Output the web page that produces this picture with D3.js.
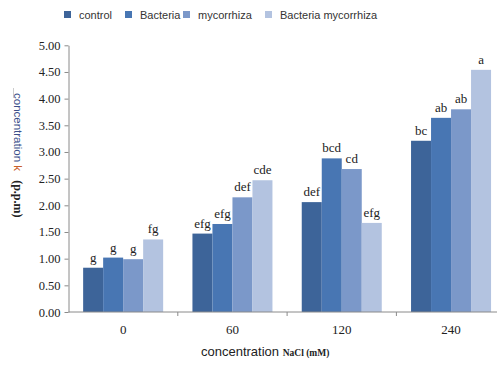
<!DOCTYPE html>
<html><head><meta charset="utf-8">
<script src="https://cdn.jsdelivr.net/npm/d3@7"></script>
<style>body{margin:0;background:#fff}svg{display:block}</style>
</head><body>
<svg id="c" width="497" height="365"></svg>
<script>
const categories = ["0","60","120","240"];
const seriesNames = ["control","Bacteria","mycorrhiza","Bacteria mycorrhiza"];
const control = [0.83, 1.47, 2.06, 3.21];
const bacteria = [1.02, 1.65, 2.88, 3.64];
const mycorrhiza = [0.99, 2.15, 2.68, 3.80];
const bactMyc = [1.36, 2.47, 1.67, 4.54];
const letters = [
  ["g","efg","def","bc"],
  ["g","efg","bcd","ab"],
  ["g","def","cd","ab"],
  ["fg","cde","efg","a"]
];
const yTicks = [0,0.5,1,1.5,2,2.5,3,3.5,4,4.5,5];
const colors = ["#3d6499","#4876b3","#7b98c9","#b3c3e0"];
const series = [control, bacteria, mycorrhiza, bactMyc];

const svg = d3.select("#c");
const x0 = 68.5, y0 = 312;
const x = d3.scaleBand().domain(categories).range([x0, x0 + 4*109.3]).paddingInner(0.268).paddingOuter(0.134);
const xs = d3.scaleBand().domain(seriesNames).range([0, x.bandwidth()]);
const y = d3.scaleLinear().domain([0,5]).range([y0, 45.3]);

// y axis
const ya = svg.append("g").attr("transform",`translate(${x0},0)`)
  .call(d3.axisLeft(y).tickValues(yTicks).tickFormat(d3.format(".2f")).tickSize(4).tickSizeOuter(0));
ya.select(".domain").attr("stroke","#8a8a8a");
ya.selectAll(".tick line").attr("stroke","#8a8a8a");
ya.selectAll(".tick text").attr("font-family","'Liberation Serif','Times New Roman',serif").attr("font-size",12.5).attr("fill","#222").attr("x",-8);

// bars
categories.forEach((c,i)=>{
  series.forEach((s,j)=>{
    svg.append("rect").attr("x",x(c)+xs(seriesNames[j])).attr("y",y(s[i]))
      .attr("width",xs.bandwidth()).attr("height",y0-y(s[i])).attr("fill",colors[j]);
    svg.append("text").attr("x",x(c)+xs(seriesNames[j])+xs.bandwidth()/2).attr("y",y(s[i])-6)
      .attr("text-anchor","middle").attr("font-family","'Liberation Serif','Times New Roman',serif")
      .attr("font-size",13).attr("fill","#222").text(letters[j][i]);
  });
});

// x axis
svg.append("line").attr("x1",x0).attr("x2",497).attr("y1",y0).attr("y2",y0).attr("stroke","#8a8a8a");
categories.forEach((c,i)=>{
  if(i>0){
    const bx = x(c) - x.step()*x.paddingInner()/2;
    svg.append("line").attr("x1",bx).attr("x2",bx).attr("y1",y0).attr("y2",y0+4).attr("stroke","#8a8a8a");
  }
  svg.append("text").attr("x",x(c)+x.bandwidth()/2).attr("y",334).attr("text-anchor","middle")
    .attr("font-family","'Liberation Serif','Times New Roman',serif").attr("font-size",13).attr("fill","#222").text(c);
});

// x title
const xt = svg.append("text").attr("x",201).attr("y",356).attr("fill","#222");
xt.append("tspan").attr("font-family","'Liberation Sans',Arial,sans-serif").attr("font-size",13).text("concentration ");
xt.append("tspan").attr("font-family","'Liberation Serif','Times New Roman',serif").attr("font-size",9.5).attr("font-weight","bold").text("NaCl (mM)");

// y title
svg.append("line").attr("x1",13.5).attr("x2",13.5).attr("y1",88).attr("y2",98).attr("stroke","#ccc");
const yt = svg.append("text").attr("transform","translate(14,93) rotate(90)");
yt.append("tspan").attr("font-family","'Liberation Sans',Arial,sans-serif").attr("font-size",11.5).attr("fill","#3b4f8a").text("concentration ");
yt.append("tspan").attr("font-family","'Liberation Sans',Arial,sans-serif").attr("font-size",11.5).attr("fill","#c8602a").text("k ");
yt.append("tspan").attr("dx",6).attr("font-family","'Liberation Serif','Times New Roman',serif").attr("font-size",12).attr("font-weight","bold").attr("fill","#222").text("(p.p.m)");

// legend
const legX = [64,125,183,265];
seriesNames.forEach((n,j)=>{
  svg.append("rect").attr("x",legX[j]).attr("y",11).attr("width",7).attr("height",7).attr("fill",colors[j]);
  svg.append("text").attr("x",legX[j]+15).attr("y",18.5).attr("font-family","'Liberation Sans',Arial,sans-serif")
    .attr("font-size",11).attr("fill","#333").text(n);
});
</script>
</body></html>
